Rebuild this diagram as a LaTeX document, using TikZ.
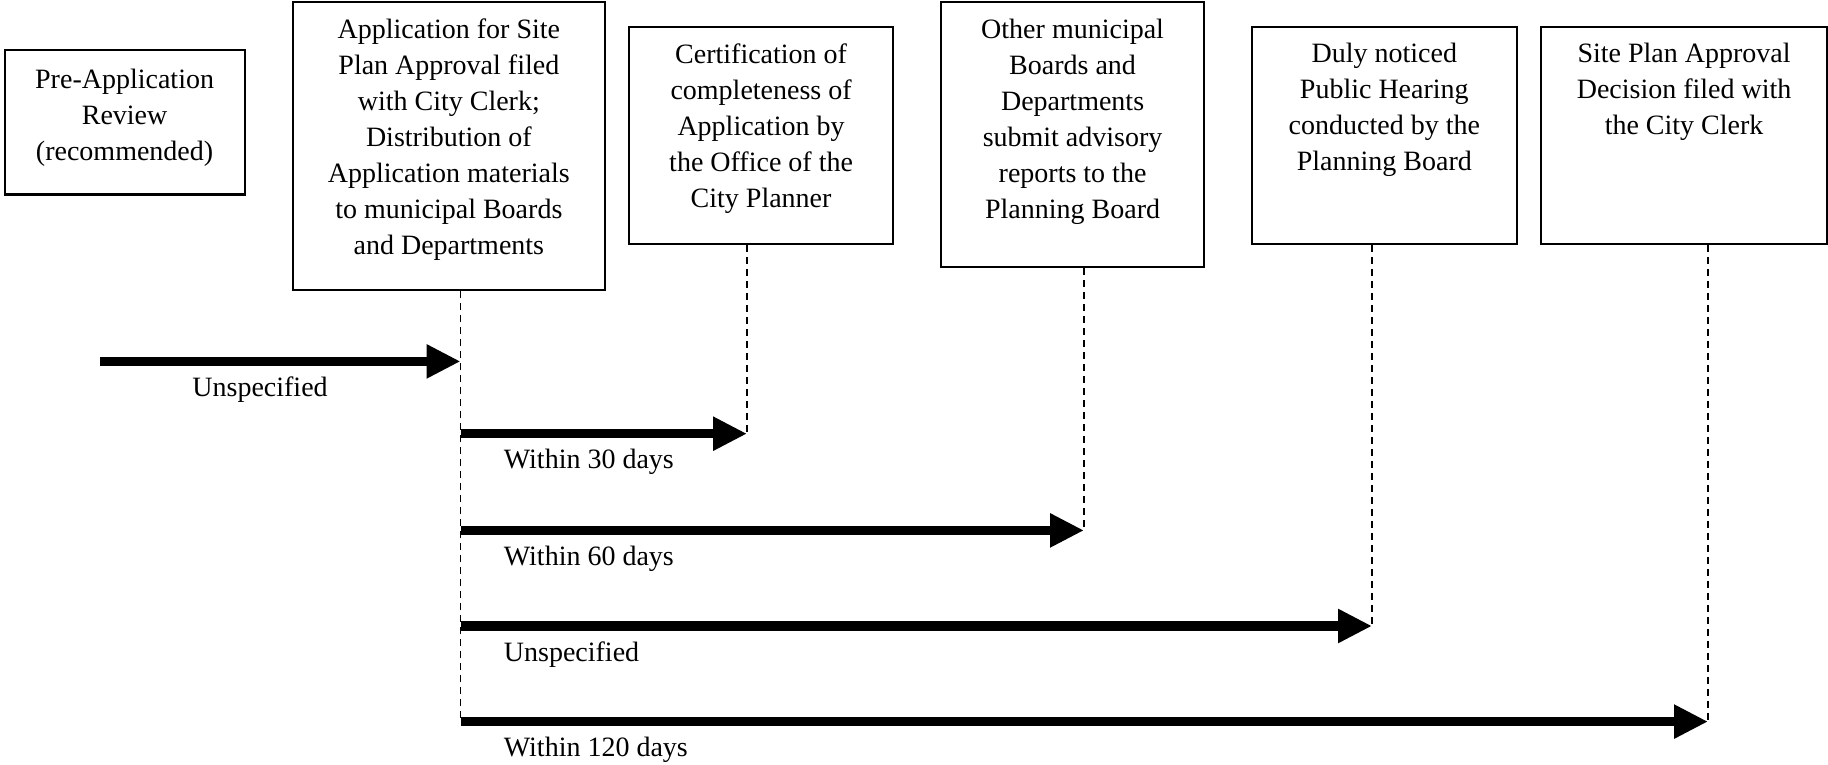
\documentclass[tikz,border=0pt]{standalone}
\usepackage{fontspec}
\setmainfont{Liberation Serif}
\usetikzlibrary{arrows.meta,positioning}

\tikzset{
  stage/.style={draw, line width=1.1pt, anchor=north west, inner sep=0pt},
  stagetext/.style={align=center, anchor=north, inner sep=0pt, font=\fontsize{14}{18}\selectfont},
  span/.style={line width=4.6pt, -{Triangle[length=17pt,width=16pt]}},
  drop/.style={line width=0.85pt, dash pattern=on 3.5pt off 2.5pt},
  spanlabel/.style={anchor=base west, inner sep=0pt, font=\fontsize{14}{18}\selectfont}
}

\begin{document}
\begin{tikzpicture}[x=0.5pt, y=-0.5pt]
    \useasboundingbox (0,0) rectangle (1828,765);

    %boxes
    \node[stage, minimum width=120pt, minimum height=72.25pt] (pre) at (3.5,49) {};
    \node[stage, minimum width=156.25pt, minimum height=144pt] (app) at (291.5,1.2) {};
    \node[stage, minimum width=132pt, minimum height=108.5pt] (cert) at (628,25.6) {};
    \node[stage, minimum width=131.5pt, minimum height=132.4pt] (other) at (940,1.2) {};
    \node[stage, minimum width=132.25pt, minimum height=108.5pt] (hear) at (1251,25.6) {};
    \node[stage, minimum width=143pt, minimum height=108.5pt] (dec) at (1540,25.6) {};

    \node[stagetext, below=9.8pt of pre.north] (pretxt) {Pre-Application\\Review\\(recommended)};
    \node[stagetext, below=8.7pt of app.north] (apptxt) {Application for Site\\Plan Approval filed\\with City Clerk;\\Distribution of\\Application materials\\to municipal Boards\\and Departments};
    \node[stagetext, below=8.7pt of cert.north] (certtxt) {Certification of\\completeness of\\Application by\\the Office of the\\City Planner};
    \node[stagetext, below=8.7pt of other.north] (othertxt) {Other municipal\\Boards and\\Departments\\submit advisory\\reports to the\\Planning Board};
    \node[stagetext, below=8.7pt of hear.north] (heartxt) {Duly noticed\\Public Hearing\\conducted by the\\Planning Board};
    \node[stagetext, below=8.7pt of dec.north] (dectxt) {Site Plan Approval\\Decision filed with\\the City Clerk};

    %ends of the time spans
    \coordinate (prestart) at (100,361.4);
    \coordinate (appdrop) at (460.5,723);
    \coordinate (certend) at (747,433.7);
    \coordinate (otherend) at (1084,530.4);
    \coordinate (hearend) at (1372,626);
    \coordinate (decend) at (1708,721.6);

    %dashed drops
    \draw[drop] (app.south -| appdrop) -- (appdrop);
    \draw[drop] (cert.south -| certend) -- (certend);
    \draw[drop] (other.south -| otherend) -- (otherend);
    \draw[drop] (hear.south -| hearend) -- (hearend);
    \draw[drop] (dec.south -| decend) -- (decend);

    %time spans
    \draw[span] (prestart) -- (prestart -| appdrop);
    \draw[span] (certend -| appdrop) -- (certend);
    \draw[span] (otherend -| appdrop) -- (otherend);
    \draw[span] (hearend -| appdrop) -- (hearend);
    \draw[span] (decend -| appdrop) -- (decend);

    \node[spanlabel] (lab0) at ([xshift=46pt, yshift=-17.5pt]prestart) {Unspecified};
    \node[spanlabel] (lab30) at ([xshift=21.5pt, yshift=-17.5pt]certend -| appdrop) {Within 30 days};
    \node[spanlabel] (lab60) at ([xshift=21.5pt, yshift=-17.5pt]otherend -| appdrop) {Within 60 days};
    \node[spanlabel] (labhear) at ([xshift=21.5pt, yshift=-17.5pt]hearend -| appdrop) {Unspecified};
    \node[spanlabel] (lab120) at ([xshift=21.5pt, yshift=-17.5pt]decend -| appdrop) {Within 120 days};

\end{tikzpicture}
\end{document}
